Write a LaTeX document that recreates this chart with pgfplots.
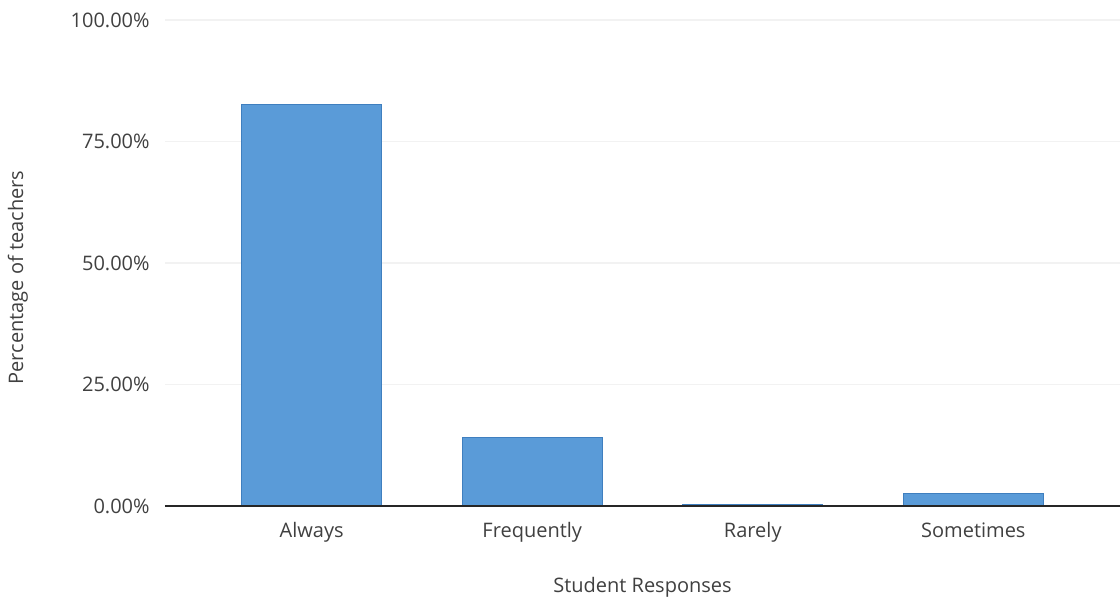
\documentclass[border=0pt]{standalone}
\usepackage{fontspec}
\setmainfont{Open Sans}
\usepackage{pgfplots}
\pgfplotsset{compat=1.18}
\definecolor{barblue}{HTML}{5A9BD8}
\definecolor{baredge}{HTML}{3F7FBF}
\definecolor{txt}{HTML}{404040}
\begin{document}
\begin{tikzpicture}
\useasboundingbox (-123.75pt,-72pt) rectangle (716.25pt,379.5pt);
\begin{axis}[
    at={(0,0)}, anchor=south west,
    scale only axis,
    width=716.25pt, height=364.5pt,
    ymin=0, ymax=100,
    xmin=-0.665, xmax=3.665,
    ytick={0,25,50,75,100},
    yticklabel={\pgfmathprintnumber[fixed,fixed zerofill,precision=2]{\tick}\%},
    /pgf/number format/assume math mode=true,
    xtick=data,
    xticklabels={Always,Frequently,Rarely,Sometimes},
    ymajorgrids,
    grid style={gray!10, line width=0.8pt},
    axis line style={draw=none},
    major tick length=0pt,
    tick label style={font=\fontsize{15}{18}\selectfont, text=txt},
    yticklabel style={xshift=-8pt},
    xticklabel style={yshift=-9pt},
    label style={font=\fontsize{15}{18}\selectfont, text=txt},
    xlabel={Student Responses},
    ylabel={Percentage of teachers},
    xlabel style={at={(axis description cs:0.5,-0.1667)}, anchor=center},
    ylabel style={at={(axis description cs:-0.154,0.47)}, anchor=center},
    ybar, bar width=105pt,
    clip=false,
]
\addplot[fill=barblue, draw=baredge, line width=0.6pt] coordinates {
    (0,82.7) (1,14.1) (2,0.4) (3,2.5)
};
\draw[black!85, line width=1.4pt] (rel axis cs:0,0) -- (rel axis cs:1,0);
\end{axis}
\end{tikzpicture}
\end{document}
